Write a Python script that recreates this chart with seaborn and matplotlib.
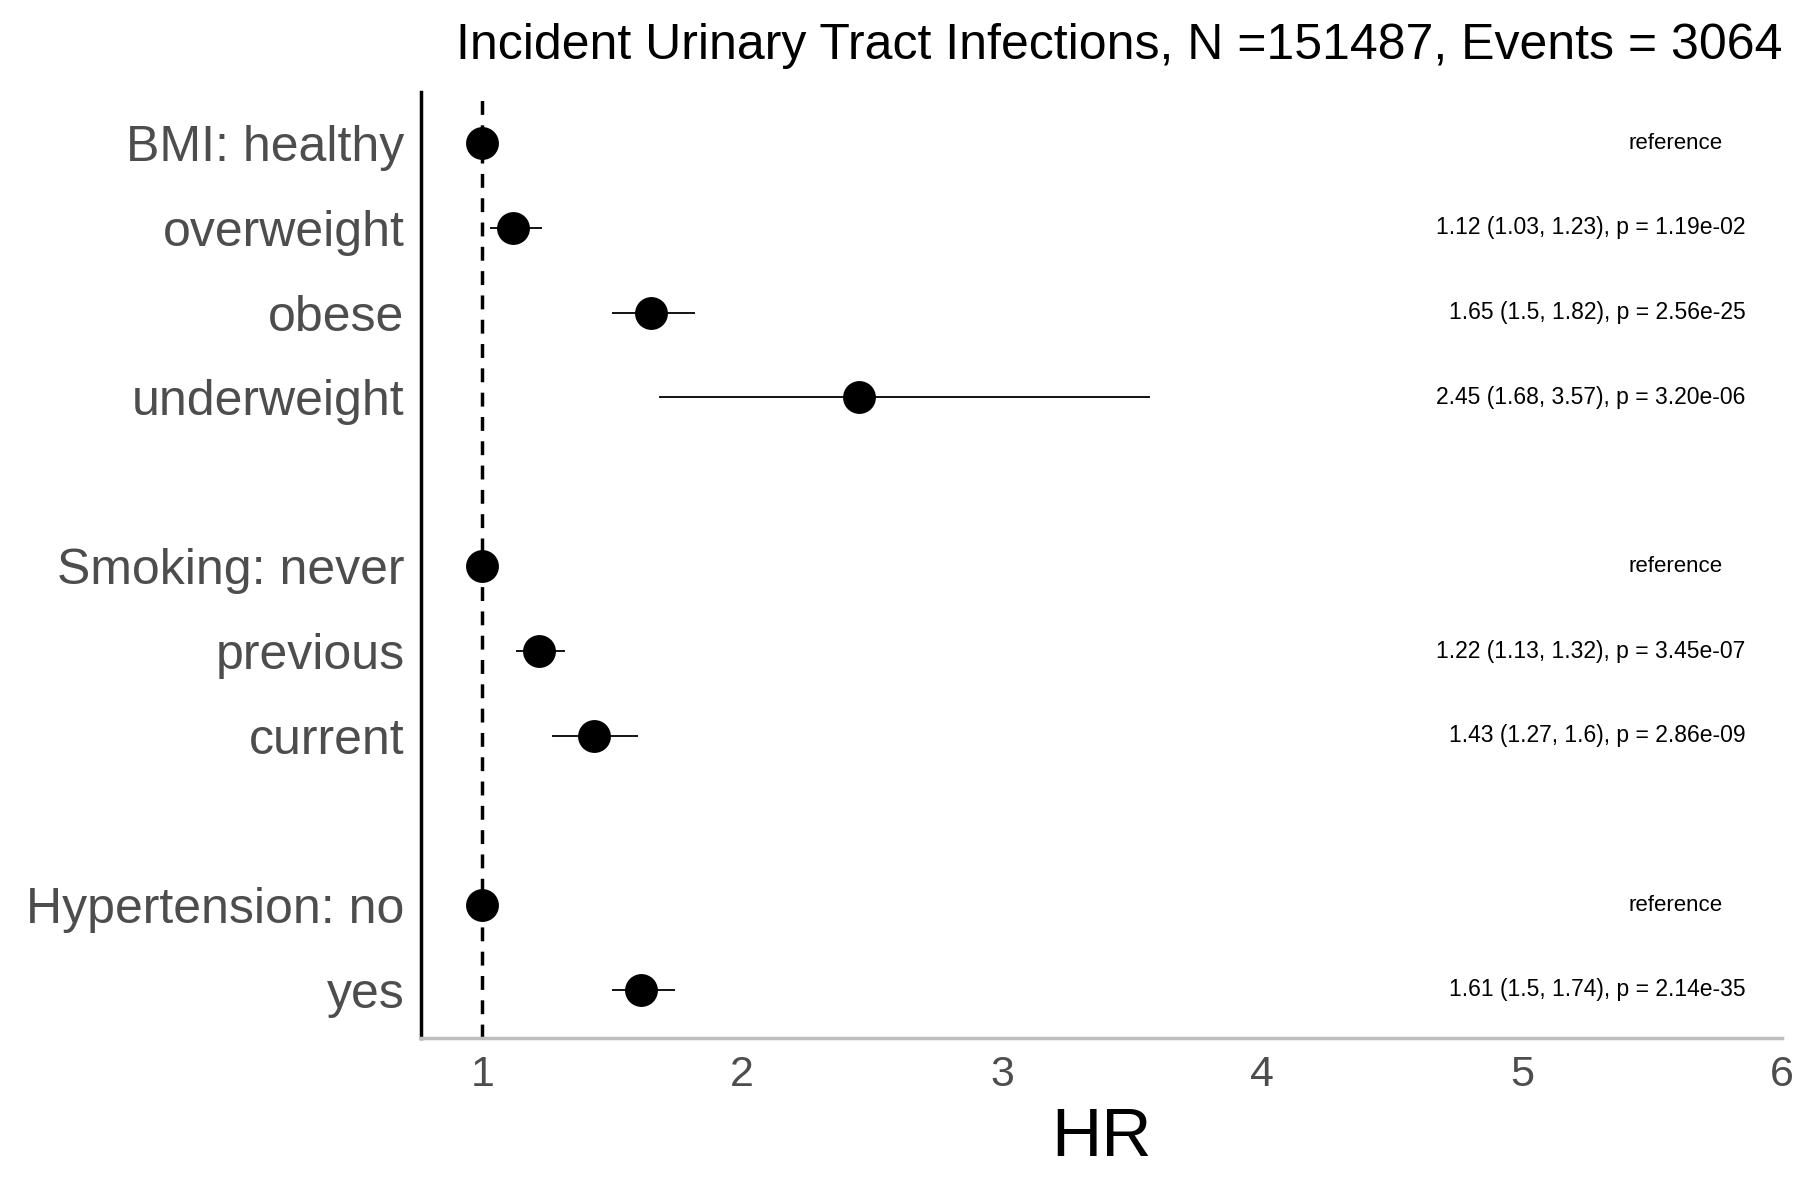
import matplotlib
matplotlib.use("Agg")
import matplotlib.pyplot as plt
import seaborn as sns
import pandas as pd
import numpy as np

labels = ["BMI: healthy", "overweight", "obese", "underweight",
          "Smoking: never", "previous", "current",
          "Hypertension: no", "yes"]
rows = [0, 1, 2, 3, 5, 6, 7, 9, 10]
hr = [1.0, 1.12, 1.65, 2.45, 1.0, 1.22, 1.43, 1.0, 1.61]
lo = [np.nan, 1.03, 1.5, 1.68, np.nan, 1.13, 1.27, np.nan, 1.5]
hi = [np.nan, 1.23, 1.82, 3.57, np.nan, 1.32, 1.6, np.nan, 1.74]
ann = ["reference", "1.12 (1.03, 1.23), p = 1.19e-02", "1.65 (1.5, 1.82), p = 2.56e-25",
       "2.45 (1.68, 3.57), p = 3.20e-06", "reference", "1.22 (1.13, 1.32), p = 3.45e-07",
       "1.43 (1.27, 1.6), p = 2.86e-09", "reference", "1.61 (1.5, 1.74), p = 2.14e-35"]
title = "Incident Urinary Tract Infections, N =151487, Events = 3064"

df = pd.DataFrame(dict(label=labels, row=rows, hr=hr, lo=lo, hi=hi, ann=ann))

plt.rcParams["font.family"] = "Liberation Sans"
fig = plt.figure(figsize=(18, 12), dpi=100)
ax = fig.add_axes([0.234, 0.135, 0.756, 0.788])

ci = df.dropna()
ax.hlines(ci["row"], ci["lo"], ci["hi"], color="black", lw=1.3, zorder=2)
sns.scatterplot(data=df, x="hr", y="row", s=480, color="black", edgecolor="black",
                ax=ax, zorder=3, legend=False)
ax.axvline(1, color="black", ls=(0, (4, 3)), lw=2.5, zorder=1)

for _, r in df.iterrows():
    if r["ann"] == "reference":
        ax.text(5.59, r["row"], r["ann"], ha="center", va="center", fontsize=16)
    else:
        ax.text(5.86, r["row"], r["ann"], ha="right", va="center", fontsize=16.5)

ax.set_xlim(0.765, 6)
ax.set_ylim(10.57, -0.6)
ax.set_yticks(df["row"])
ax.set_yticklabels(df["label"], fontsize=36, color="#4D4D4D")
ax.set_xticks([1, 2, 3, 4, 5, 6])
ax.set_xticklabels(["1", "2", "3", "4", "5", "6"], fontsize=31, color="#4D4D4D")
ax.tick_params(length=0, pad=12)
ax.set_xlabel("HR", fontsize=50, labelpad=8)
ax.set_ylabel("")
for s in ["top", "right"]:
    ax.spines[s].set_visible(False)
ax.spines["left"].set_linewidth(2.5)
ax.spines["left"].set_color("black")
ax.spines["bottom"].set_linewidth(2.5)
ax.spines["bottom"].set_color("#BEBEBE")
ax.set_title(title, fontsize=36, loc="right", pad=24)

fig.savefig("out.png", dpi=100)
